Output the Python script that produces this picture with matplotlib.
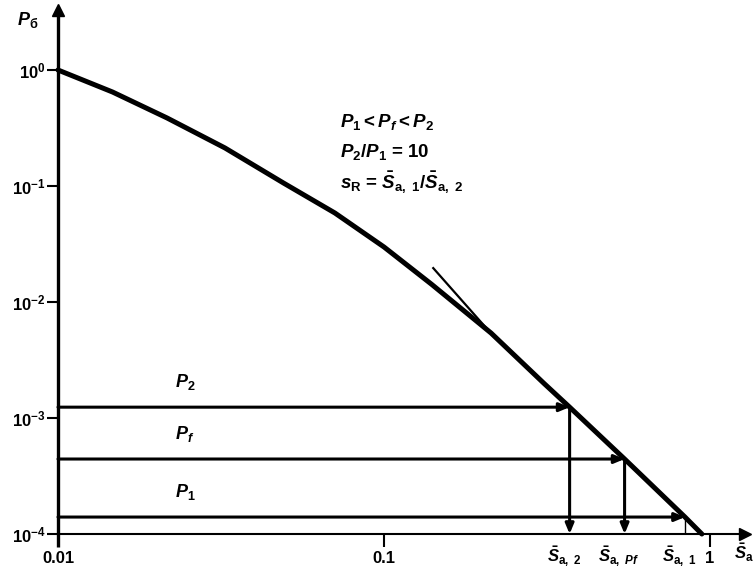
import matplotlib
matplotlib.use("Agg")
import matplotlib.pyplot as plt
import numpy as np

plt.rcParams['font.family'] = ['Liberation Sans', 'DejaVu Sans']
plt.rcParams['font.weight'] = 'bold'
plt.rcParams['mathtext.fontset'] = 'custom'
plt.rcParams['mathtext.rm'] = 'Liberation Sans:bold'
plt.rcParams['mathtext.it'] = 'Liberation Sans:bold:italic'
plt.rcParams['mathtext.bf'] = 'Liberation Sans:bold'

# ---- data ----
curve_S = [0.01, 0.0147, 0.0216, 0.0325, 0.0492, 0.0707, 0.1, 0.14, 0.213, 0.31, 0.371, 0.547, 0.838, 0.944]
curve_P = [1.0, 0.646, 0.386, 0.213, 0.106, 0.0585, 0.0298, 0.0142, 0.0054, 0.00198, 0.00124, 4.43e-4, 1.40e-4, 1.0e-4]

tangent_S = [0.1416, 0.215]
tangent_P = [0.0196, 0.0052]

level_P = [1.24e-3, 4.43e-4, 1.40e-4]
level_S = [0.371, 0.547, 0.838]
level_labels = [r"$P_2$", r"$P_f$", r"$P_1$"]
bottom_labels = [r"$\bar{S}_{\mathrm{a},\ 2}$", r"$\bar{S}_{\mathrm{a},\ Pf}$", r"$\bar{S}_{\mathrm{a},\ 1}$"]

yticks = [1e0, 1e-1, 1e-2, 1e-3, 1e-4]
ytick_labels = [r"$10^{0}$", r"$10^{-1}$", r"$10^{-2}$", r"$10^{-3}$", r"$10^{-4}$"]
xticks = [0.01, 0.1, 1]
xtick_labels = ["0.01", "0.1", "1"]

W, H = 755, 569
fig = plt.figure(figsize=(W / 100, H / 100), dpi=100)
x0, x1, y0, y1 = 58, 745, 534, 10
ax = fig.add_axes([x0 / W, 1 - y0 / H, (x1 - x0) / W, (y0 - y1) / H])
ax.set_xscale('log')
ax.set_yscale('log')
ax.set_xlim(0.01, 10 ** ((x1 - x0) / 326 - 2))
ax.set_ylim(1e-4, 10 ** ((y0 - y1) / 116 - 4))

for s in ax.spines.values():
    s.set_visible(False)

# axes with arrows
ax.plot([0, 0], [-13 / (y0 - y1), 1], color='black', lw=2.4, transform=ax.transAxes, clip_on=False, solid_capstyle='butt')
ax.plot([0], [1], marker='^', color='black', ms=9, transform=ax.transAxes, clip_on=False)
ax.plot([0, 1], [0, 0], color='black', lw=1.5, transform=ax.transAxes, clip_on=False)
ax.plot([1], [0], marker='>', color='black', ms=8, transform=ax.transAxes, clip_on=False)

ax.set_yticks(yticks)
ax.set_yticklabels(ytick_labels)
ax.set_xticks(xticks)
ax.set_xticklabels(xtick_labels)
ax.minorticks_off()
ax.tick_params(axis='y', which='major', direction='out', length=8, width=1.5, labelsize=12, pad=1)
ax.tick_params(axis='x', which='major', direction='out', length=9, width=1.5, labelsize=12, pad=3)
ax.xaxis.get_ticklines()[0].set_visible(False)

# main curve
ax.plot(curve_S, curve_P, color='black', lw=3.6, solid_capstyle='round', solid_joinstyle='round', clip_on=False)
# tangent
ax.plot(tangent_S, tangent_P, color='black', lw=1.6)

# horizontal arrows and vertical drops
for i, (p, s) in enumerate(zip(level_P, level_S)):
    ax.annotate('', xy=(s, p), xytext=(0.01, p),
                arrowprops=dict(arrowstyle='-|>,head_length=0.6,head_width=0.25', color='black', lw=2.2,
                                shrinkA=0, shrinkB=0))
    if i < 2:
        ax.annotate('', xy=(s, 1e-4), xytext=(s, p),
                    arrowprops=dict(arrowstyle='-|>,head_length=0.6,head_width=0.25', color='black', lw=2.2,
                                    shrinkA=0, shrinkB=0))
    else:
        ax.plot([s, s], [p, 1e-4], color='black', lw=1.0)
    ax.text(0.0245, p * 1.35, level_labels[i], fontsize=13, ha='center', va='bottom')
    ax.annotate(bottom_labels[i], xy=(s, 1e-4), xytext=(-4, -8), textcoords='offset points',
                fontsize=12, ha='center', va='top')

# axis labels
fig.text(28 / W, 1 - 20 / H, r"$P_{\mathrm{б}}$", fontsize=13, ha='center', va='center')
fig.text(754 / W, 1 - 553 / H, r"$\bar{S}_{\mathrm{a}}$", fontsize=12, ha='right', va='center')

# annotation block
fig.text(340 / W, 1 - 122 / H, r"$P_1 < P_f < P_2$", fontsize=13.5, ha='left', va='center')
fig.text(340 / W, 1 - 152 / H, r"$P_2/P_1$ = 10", fontsize=13.5, ha='left', va='center')
fig.text(340 / W, 1 - 182 / H, r"$s_{\mathrm{R}}$ = $\bar{S}_{\mathrm{a},\ 1}/\bar{S}_{\mathrm{a},\ 2}$", fontsize=13.5, ha='left', va='center')

fig.savefig('out.png', dpi=100, facecolor='white')
